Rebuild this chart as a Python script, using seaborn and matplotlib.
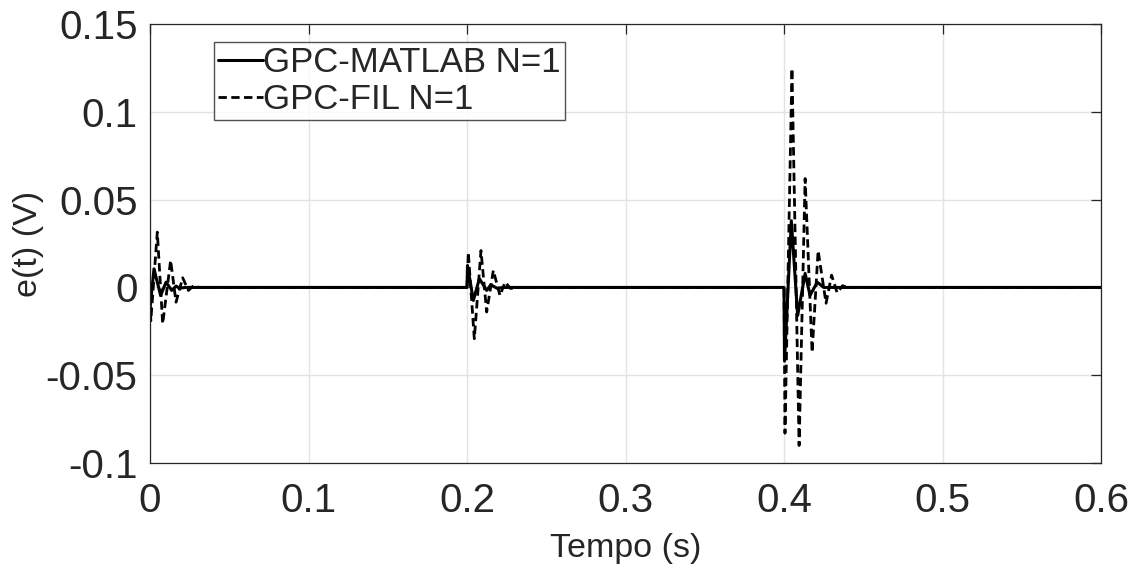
import numpy as np
import pandas as pd
import matplotlib
matplotlib.use("Agg")
import matplotlib.pyplot as plt
import seaborn as sns

# === Data ===
t_matlab = [0, 0.0003, 0.0025, 0.0067, 0.0101, 0.0137, 0.0165, 0.0185, 0.022,
            0.2, 0.2003, 0.204, 0.2078, 0.2124, 0.215, 0.219, 0.223,
            0.4, 0.4003, 0.4046, 0.4086, 0.4133, 0.4164, 0.421, 0.425, 0.6]
e_matlab = [0, -0.0093, 0.0106, -0.0046, 0.003, -0.0017, 0.0008, -0.0005, 0,
            0, 0.0125, -0.0074, 0.005, -0.0017, 0.0015, -0.0005, 0,
            0, -0.042, 0.038, -0.016, 0.008, -0.0045, 0.003, 0, 0]

t_fil = [0, 0.0005, 0.0046, 0.008, 0.013, 0.0164, 0.0206, 0.0242, 0.0275, 0.031,
         0.2, 0.2008, 0.2046, 0.2088, 0.2124, 0.2166, 0.2208, 0.224, 0.2275, 0.231,
         0.4, 0.4006, 0.405, 0.4095, 0.4133, 0.4177, 0.4215, 0.4265, 0.430,
         0.4335, 0.437, 0.44, 0.6]
e_fil = [0, -0.019, 0.0315, -0.0207, 0.0154, -0.0084, 0.0055, -0.0017, 0.001, 0,
         0, 0.020, -0.0292, 0.021, -0.014, 0.0097, -0.0046, 0.003, -0.0006, 0,
         0, -0.083, 0.1247, -0.090, 0.062, -0.037, 0.021, -0.009, 0.007,
         -0.003, 0.001, 0, 0]

x_ticks = [0, 0.1, 0.2, 0.3, 0.4, 0.5, 0.6]
x_labels = ["0", "0.1", "0.2", "0.3", "0.4", "0.5", "0.6"]
y_ticks = [-0.1, -0.05, 0, 0.05, 0.1, 0.15]
y_labels = ["-0.1", "-0.05", "0", "0.05", "0.1", "0.15"]

# === Style ===
sns.set_style("white")
plt.rcParams["font.family"] = ["Liberation Sans", "DejaVu Sans"]

fig = plt.figure(figsize=(11.33, 5.64), dpi=100)
ax = fig.add_axes([0.1324, 0.179, 0.9718 - 0.1324, 0.9574 - 0.179])

df_m = pd.DataFrame({"t": t_matlab, "e": e_matlab})
df_f = pd.DataFrame({"t": t_fil, "e": e_fil})

sns.lineplot(data=df_m, x="t", y="e", ax=ax, color="black", lw=2.2,
             estimator=None, sort=False, label="GPC-MATLAB N=1")
sns.lineplot(data=df_f, x="t", y="e", ax=ax, color="black", lw=2.0,
             estimator=None, sort=False, label="GPC-FIL N=1",
             linestyle=(0, (3, 1.6)))

ax.set_xlim(0, 0.6)
ax.set_ylim(-0.1, 0.15)
ax.set_xticks(x_ticks)
ax.set_xticklabels(x_labels)
ax.set_yticks(y_ticks)
ax.set_yticklabels(y_labels)
ax.grid(True, color="#e3e3e3", lw=1.0)
ax.set_axisbelow(True)

ax.tick_params(axis="both", which="major", direction="in", labelsize=29,
               length=7, width=0.9, color="#262626", labelcolor="#262626",
               top=True, right=True)
ax.tick_params(axis="x", pad=14)
ax.tick_params(axis="y", pad=9)
for s in ax.spines.values():
    s.set_visible(True)
    s.set_color("#262626")
    s.set_linewidth(0.9)

ax.set_xlabel("Tempo (s)", fontsize=24.5, color="#262626", labelpad=9)
ax.set_ylabel("e(t) (V)", fontsize=24.5, color="#262626", labelpad=1)

leg = ax.legend(loc="upper left", bbox_to_anchor=(0.067, 0.96), fontsize=25,
                frameon=True, fancybox=False, edgecolor="#262626",
                handlelength=1.3, handletextpad=0.0, borderpad=0.12,
                labelspacing=0.12, borderaxespad=0)
leg.get_frame().set_linewidth(1.0)

fig.savefig("out.png", dpi=100, facecolor="white")
